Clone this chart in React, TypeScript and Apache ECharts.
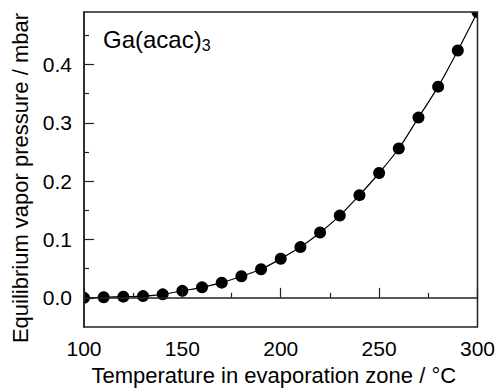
import React, { useEffect, useRef } from "react";
import * as echarts from "echarts";

const temperatures = [100, 110, 120, 130, 140, 150, 160, 170, 180, 190, 200, 210, 220, 230, 240, 250, 260, 270, 280, 290, 300];
const pressures = [0.0, 0.001, 0.002, 0.003, 0.006, 0.012, 0.018, 0.026, 0.037, 0.049, 0.067, 0.087, 0.112, 0.141, 0.176, 0.214, 0.256, 0.309, 0.362, 0.424, 0.49];
const yMajor = [0, 0.1, 0.2, 0.3, 0.4];
const yMinor = [0.05, 0.15, 0.25, 0.35, 0.45];
const xMajor = [100, 150, 200, 250, 300];
const xMinor = [125, 175, 225, 275];

const FONT = "Liberation Sans, Arial, sans-serif";

export default function App() {
  const ref = useRef<HTMLDivElement>(null);
  useEffect(() => {
    if (!ref.current) return;
    const chart = echarts.init(ref.current, null, { renderer: "svg" });
    const pts = temperatures.map((t, i) => [t, pressures[i]]);
    const gridL = 84, gridR = 20, gridT = 12, gridB = 65;
    chart.setOption({
      animation: false,
      backgroundColor: "#fff",
      textStyle: { fontFamily: FONT },
      grid: { left: gridL, right: gridR, top: gridT, bottom: gridB, show: true, borderColor: "#222", borderWidth: 1.5, backgroundColor: "transparent", z: 60 },
      title: {
        text: "{a|Ga(acac)}{s|3}",
        left: 103,
        top: 26,
        padding: 0,
        z: 60,
        textStyle: {
          rich: {
            a: { fontSize: 24, fontFamily: FONT, fontWeight: "normal", color: "#000", lineHeight: 26 },
            s: { fontSize: 16, fontFamily: FONT, fontWeight: "normal", color: "#000", lineHeight: 26, padding: [12, 0, 0, 0] },
          },
        },
      },
      xAxis: [
        {
          type: "value", min: 100, max: 300, interval: 50, z: 60,
          name: "Temperature in evaporation zone / °C", nameLocation: "middle", nameGap: 37,
          nameTextStyle: { fontSize: 22, color: "#000", fontFamily: FONT, padding: [0, 14, 0, 0] },
          axisLine: { show: true, lineStyle: { color: "#222", width: 1.5 } },
          axisTick: { show: true, inside: true, length: 10, lineStyle: { color: "#222", width: 1.2 }, customValues: xMajor },
          axisLabel: { color: "#000", fontSize: 21, margin: 11, fontFamily: FONT, customValues: xMajor },
          splitLine: { show: false },
        },
        {
          type: "value", min: 100, max: 300, position: "bottom", z: 60,
          axisLine: { show: false },
          axisTick: { show: true, inside: true, length: 5, lineStyle: { color: "#222", width: 1.2 }, customValues: xMinor },
          axisLabel: { show: false },
          splitLine: { show: false },
        },
      ],
      yAxis: [
        {
          type: "value", min: -0.05, max: 0.49, z: 60,
          name: "Equilibrium vapor pressure / mbar", nameLocation: "middle", nameGap: 52,
          nameTextStyle: { fontSize: 22, color: "#000", fontFamily: FONT, padding: [0, 17, 0, 0] },
          axisLine: { show: true, lineStyle: { color: "#222", width: 1.5 } },
          axisTick: { show: true, inside: true, length: 10, lineStyle: { color: "#222", width: 1.2 }, customValues: yMajor },
          axisLabel: { color: "#000", fontSize: 21, margin: 12, fontFamily: FONT, customValues: yMajor, formatter: (v: number) => v.toFixed(1) },
          splitLine: { show: false },
        },
        {
          type: "value", min: -0.05, max: 0.49, position: "left", z: 60,
          axisLine: { show: false },
          axisTick: { show: true, inside: true, length: 5, lineStyle: { color: "#222", width: 1.2 }, customValues: yMinor },
          axisLabel: { show: false },
          splitLine: { show: false },
        },
      ],
      series: [
        {
          type: "line", data: pts, smooth: 0.3, showSymbol: false, symbol: "none",
          lineStyle: { color: "#000", width: 1.2 }, z: 2, clip: true,
        },
        {
          type: "custom", data: pts, clip: true, z: 3,
          renderItem: (params: any, api: any) => {
            const p = api.coord([api.value(0), api.value(1)]);
            return { type: "circle", shape: { cx: p[0], cy: p[1], r: 6 }, style: { fill: "#000" } };
          },
        },
      ],
    });
    return () => chart.dispose();
  }, []);
  return <div ref={ref} style={{ width: 498, height: 392, position: "absolute", left: 0, top: 0 }} />;
}
